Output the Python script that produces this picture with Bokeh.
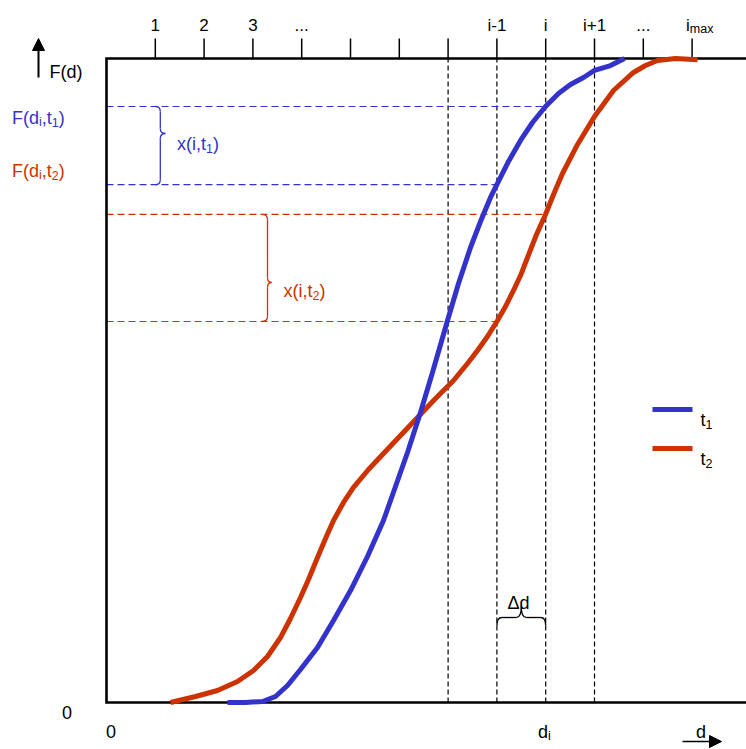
from bokeh.plotting import figure
from bokeh.models import Label, Arrow, NormalHead, Range1d
from bokeh.embed import file_html
from bokeh.resources import INLINE

# ---------------- data ----------------
# top scale: class index ticks
top_ticks = [1, 2, 3, 4, 5, 6, 7, 8, 9, 10, 11, 12]
top_tick_labels = ["1", "2", "3", "...", "", "", "", "i-1", "i", "i+1", "...", "i_max"]
bin_edges = [7, 8, 9, 10]          # dashed class boundaries
d_i, d_im1 = 9, 8                  # d_i and d_(i-1)

# F levels read at d_i and d_(i-1)
levels_t1 = [0.9255, 0.804]
levels_t2 = [0.758, 0.5916]
level_ends = [d_i, d_im1]

# cumulative curve t1 (blue)
t1_d = [2.480, 2.848, 3.197, 3.463, 3.709, 3.975, 4.324, 4.652, 5.000, 5.348,
        5.676, 5.922, 6.168, 6.434, 6.680, 6.988, 7.213, 7.459, 7.664, 7.869,
        8.012, 8.238, 8.484, 8.730, 8.996, 9.262, 9.508, 9.775, 10.000, 10.328,
        10.615]
t1_F = [0.0, 0.0, 0.0016, 0.0093, 0.0264, 0.0512, 0.0854, 0.1273, 0.1739, 0.2267,
        0.2826, 0.3354, 0.3882, 0.4503, 0.5124, 0.5932, 0.6506, 0.7065, 0.7469, 0.7842,
        0.8060, 0.8401, 0.8727, 0.9006, 0.9255, 0.9457, 0.9596, 0.9705, 0.9814, 0.9891,
        1.0]

# cumulative curve t2 (red)
t2_d = [1.311, 1.824, 2.275, 2.684, 3.012, 3.299, 3.566, 3.770, 3.975, 4.139,
        4.324, 4.488, 4.652, 4.857, 5.061, 5.369, 5.676, 6.025, 6.373, 6.742,
        7.111, 7.398, 7.602, 7.807, 8.012, 8.176, 8.340, 8.484, 8.627, 8.811,
        8.996, 9.160, 9.344, 9.652, 10.000, 10.389, 10.799, 11.045, 11.291, 11.660,
        12.111]
t2_F = [0.0, 0.0093, 0.0186, 0.0326, 0.0497, 0.0714, 0.1009, 0.1304, 0.1630, 0.1910,
        0.2252, 0.2546, 0.2826, 0.3106, 0.3339, 0.3618, 0.3866, 0.4146, 0.4425, 0.4720,
        0.5000, 0.5264, 0.5466, 0.5683, 0.5932, 0.6149, 0.6398, 0.6630, 0.6910, 0.7267,
        0.7578, 0.7888, 0.8214, 0.8665, 0.9099, 0.9503, 0.9783, 0.9891, 0.9969, 1.0,
        0.998]

# ---------------- layout ----------------
W_PX, H_PX = 746, 749
ORIGIN_X_PX, ORIGIN_Y_PX, TOP_Y_PX = 106, 702, 58
STEP_PX = 48.8
PX_X = 1.0 / STEP_PX
PX_Y = 1.0 / (ORIGIN_Y_PX - TOP_Y_PX)


def DX(px):
    return (px - ORIGIN_X_PX) * PX_X


def DY(py):
    return (ORIGIN_Y_PX - py) * PX_Y


BLUE = "#3333CC"
RED = "#CC3300"
BLACK = "#000000"
FONT = "Liberation Sans"

p = figure(width=W_PX, height=H_PX,
           x_range=Range1d(DX(0), DX(W_PX)), y_range=Range1d(DY(H_PX), DY(0)),
           x_axis_type=None, y_axis_type=None,
           toolbar_location=None, output_backend="svg", min_border=0)
p.outline_line_color = None
p.background_fill_color = "white"
p.border_fill_color = "white"

x_right = DX(W_PX)

# ---------------- dashed guide lines ----------------
p.segment(x0=bin_edges, y0=[0] * len(bin_edges), x1=bin_edges, y1=[1] * len(bin_edges),
          line_color=BLACK, line_width=1.2, line_dash="5 3")
p.segment(x0=[0, 0], y0=levels_t1, x1=level_ends, y1=levels_t1,
          line_color=BLUE, line_width=1.2, line_dash="7 4")
p.segment(x0=[0, 0], y0=levels_t2, x1=level_ends, y1=levels_t2,
          line_color=RED, line_width=1.2, line_dash="7 4")

# ---------------- frame (axes) ----------------
p.line(x=[x_right, 0, 0, x_right], y=[1, 1, 0, 0], line_color=BLACK, line_width=2.6,
       line_join="miter")
p.segment(x0=top_ticks, y0=[1] * len(top_ticks), x1=top_ticks,
          y1=[1 + 20 * PX_Y] * len(top_ticks), line_color=BLACK, line_width=1.5)

# ---------------- curves ----------------
p.line(x=t2_d, y=t2_F, line_color=RED, line_width=5, line_join="round")
p.line(x=t1_d, y=t1_F, line_color=BLUE, line_width=5, line_join="round")


# ---------------- braces ----------------
def vbrace(x_end, f_top, f_bot, f_tip, color, spine=5, tip=10, r=5):
    xs = x_end + spine * PX_X
    xt = x_end + tip * PX_X
    ry = r * PX_Y
    p.quadratic(x0=[x_end, xs, xt, xs], y0=[f_top, f_tip + ry, f_tip, f_bot + ry],
                x1=[xs, xt, xs, x_end], y1=[f_top - ry, f_tip, f_tip - ry, f_bot],
                cx=[xs, xs, xs, xs], cy=[f_top, f_tip, f_tip, f_bot],
                line_color=color, line_width=1.3)
    p.segment(x0=[xs, xs], y0=[f_top - ry, f_tip - ry], x1=[xs, xs], y1=[f_tip + ry, f_bot + ry],
              line_color=color, line_width=1.3)


def hbrace(d_left, d_right, f_end, d_tip, color, spine=8, tip=19, r=5):
    ys = f_end + spine * PX_Y
    yt = f_end + tip * PX_Y
    rx = r * PX_X
    p.quadratic(x0=[d_left, d_tip - rx, d_tip, d_right - rx], y0=[f_end, ys, yt, ys],
                x1=[d_left + rx, d_tip, d_tip + rx, d_right], y1=[ys, yt, ys, f_end],
                cx=[d_left, d_tip, d_tip, d_right], cy=[ys, ys, ys, ys],
                line_color=color, line_width=1.3)
    p.segment(x0=[d_left + rx, d_tip + rx], y0=[ys, ys], x1=[d_tip - rx, d_right - rx], y1=[ys, ys],
              line_color=color, line_width=1.3)


vbrace(1.0, levels_t1[0], levels_t1[1], DY(133), BLUE, spine=5, tip=10)
vbrace(DX(261), levels_t2[0], levels_t2[1], DY(282), RED, spine=6, tip=10)
hbrace(d_im1, d_i, DY(625), (d_im1 + d_i) / 2, BLACK)

# ---------------- text helper ----------------
CW = {'F': .611, '(': .333, ')': .333, 'd': .556, 'i': .222, ',': .278, 't': .278,
      '0': .556, '1': .556, '2': .556, '3': .556, 'x': .5, 'm': .833, 'a': .556,
      '-': .333, '+': .584, '.': .278, 'Δ': .668}


def tw(s, size):
    return sum(CW.get(c, 0.556) for c in s) * size


def rich(x_px, y_px, parts, color=BLACK, size=18, sub=12.5, drop=4.5, align="left"):
    sizes = [sub if s else size for _, s in parts]
    widths = [tw(t, sz) for (t, _), sz in zip(parts, sizes)]
    total = sum(widths)
    x = x_px - total * {"left": 0, "center": 0.5, "right": 1}[align]
    for (t, s), sz, w in zip(parts, sizes, widths):
        p.add_layout(Label(x=DX(x), y=DY(y_px + (drop if s else 0)), text=t,
                           text_color=color, text_font=FONT, text_font_size=f"{sz}px",
                           text_baseline="alphabetic", text_align="left"))
        x += w


# top tick labels
for k, lab in zip(top_ticks, top_tick_labels):
    if not lab:
        continue
    tx = ORIGIN_X_PX + k * STEP_PX
    if "_" in lab:
        main, sb = lab.split("_")
        rich(tx - 6, 24.5, [(main, False), (sb, True)], size=17, sub=12.5, drop=4)
    else:
        rich(tx, 24.5, [(lab, False)], size=17, align="center")

# y-axis annotations
rich(49, 71, [("F(d)", False)], size=18)
rich(11.5, 117, [("F(d", False), ("i", True), (",t", False), ("1", True), (")", False)], color=BLUE)
rich(11.5, 170, [("F(d", False), ("i", True), (",t", False), ("2", True), (")", False)], color=RED)
rich(176.5, 143.5, [("x(i,t", False), ("1", True), (")", False)], color=BLUE)
rich(283, 290, [("x(i,t", False), ("2", True), (")", False)], color=RED)
rich(518, 602, [("Δd", False)], align="center")
rich(66.5, 712, [("0", False)], align="center")
rich(110.5, 731, [("0", False)], align="center")
rich(537.5, 731, [("d", False), ("i", True)])
rich(700.5, 731, [("d", False)], align="center")

# legend
p.line(x=[DX(652), DX(692)], y=[DY(409)] * 2, line_color=BLUE, line_width=5)
p.line(x=[DX(652), DX(692)], y=[DY(448)] * 2, line_color=RED, line_width=5)
rich(700, 419, [("t", False), ("1", True)])
rich(700, 458, [("t", False), ("2", True)])

# arrows
p.add_layout(Arrow(end=NormalHead(size=12, fill_color=BLACK, line_color=BLACK, line_width=1),
                   x_start=DX(38), y_start=DY(77), x_end=DX(38), y_end=DY(38),
                   line_color=BLACK, line_width=2))
p.add_layout(Arrow(end=NormalHead(size=12, fill_color=BLACK, line_color=BLACK, line_width=1),
                   x_start=DX(682), y_start=DY(741), x_end=DX(721), y_end=DY(741),
                   line_color=BLACK, line_width=1.5))

open("out.html", "w").write(file_html(p, INLINE))
